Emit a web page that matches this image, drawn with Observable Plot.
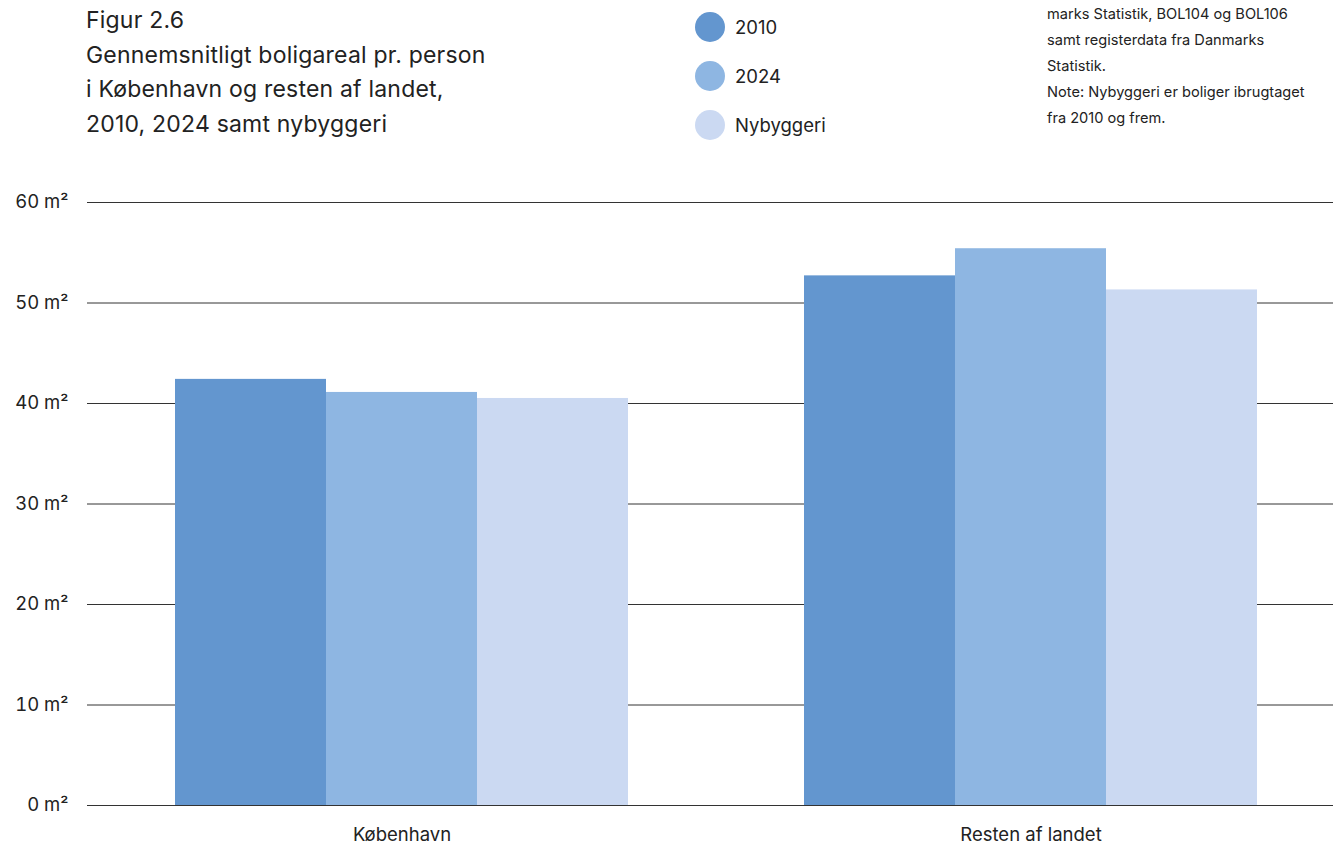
<!DOCTYPE html>
<html>
<head>
<meta charset="utf-8">
<script src="https://cdn.jsdelivr.net/npm/d3@7"></script>
<script src="https://cdn.jsdelivr.net/npm/@observablehq/plot@0.6"></script>
<style>
  html, body { margin: 0; padding: 0; background: #fff; width: 1333px; height: 844px; overflow: hidden; }
  body { position: relative; font-family: Inter, "Noto Sans", sans-serif; color: #222; }
  .layer { position: absolute; left: 0; top: 0; }
  #title { position: absolute; left: 86px; top: 3px; font-size: 23px; line-height: 34.5px; letter-spacing: 0.2px; white-space: nowrap; }
  #legend { position: absolute; left: 695px; top: 0; }
  .li { position: absolute; left: 0; height: 30px; display: flex; align-items: center; white-space: nowrap; font-size: 18.5px; }
  .sw { width: 30px; height: 30px; border-radius: 50%; margin-right: 10px; }
  #note { position: absolute; left: 1047px; top: 1px; font-size: 14.6px; line-height: 26px; white-space: nowrap; }
</style>
</head>
<body>
<div id="title"></div>
<div id="legend"></div>
<div id="note"></div>
<div id="grid" class="layer"></div>
<div id="bars" class="layer"></div>
<script>
const titleLines = ["Figur 2.6", "Gennemsnitligt boligareal pr. person", "i København og resten af landet,", "2010, 2024 samt nybyggeri"];
const noteLines = ["marks Statistik, BOL104 og BOL106", "samt registerdata fra Danmarks", "Statistik.", "Note: Nybyggeri er boliger ibrugtaget", "fra 2010 og frem."];
const regions = ["København", "Resten af landet"];
const series = ["2010", "2024", "Nybyggeri"];
const colors = ["#6396cf", "#8eb6e2", "#cbd9f2"];
const values2010 = [42.4, 52.7];
const values2024 = [41.1, 55.4];
const valuesNyb = [40.5, 51.3];
const yTicks = [0, 10, 20, 30, 40, 50, 60];

document.getElementById("title").innerHTML = titleLines.map(t => `<div>${t}</div>`).join("");
document.getElementById("note").innerHTML = noteLines.map(t => `<div>${t}</div>`).join("");
const legendTops = [12, 61, 110];
document.getElementById("legend").innerHTML = series.map((s, i) =>
  `<div class="li" style="top:${legendTops[i]}px"><span class="sw" style="background:${colors[i]}"></span>${s}</div>`).join("");

const data = [];
const seriesValues = [values2010, values2024, valuesNyb];
regions.forEach((r, ri) => series.forEach((s, si) => data.push({region: r, series: s, value: seriesValues[si][ri]})));

const common = {
  width: 1345, height: 850,
  marginTop: 202, marginBottom: 45, marginLeft: 87, marginRight: 0,
  style: {fontFamily: "Inter, 'Noto Sans', sans-serif", color: "#222", background: "transparent", overflow: "visible", maxWidth: "none"}
};

const grid = Plot.plot({
  ...common,
  y: {domain: [0, 60], axis: null},
  marks: [
    Plot.ruleY(yTicks, {stroke: "#333", strokeWidth: 1}),
    Plot.axisY(yTicks, {tickSize: 0, tickPadding: 19, tickFormat: d => `${d} m²`, fontSize: 18.5, label: null})
  ]
});
document.getElementById("grid").appendChild(grid);

const bars = Plot.plot({
  ...common,
  y: {domain: [0, 60], axis: null},
  fx: {domain: regions, paddingInner: 0.28, paddingOuter: 0.14, label: null},
  x: {domain: series, padding: 0, axis: null},
  color: {domain: series, range: colors},
  marks: [
    Plot.barY(data, {fx: "region", x: "series", y: "value", fill: "series"}),
    Plot.axisFx({anchor: "bottom", tickSize: 0, tickPadding: 22, fontSize: 18.5, label: null})
  ]
});
document.getElementById("bars").appendChild(bars);
</script>
</body>
</html>
